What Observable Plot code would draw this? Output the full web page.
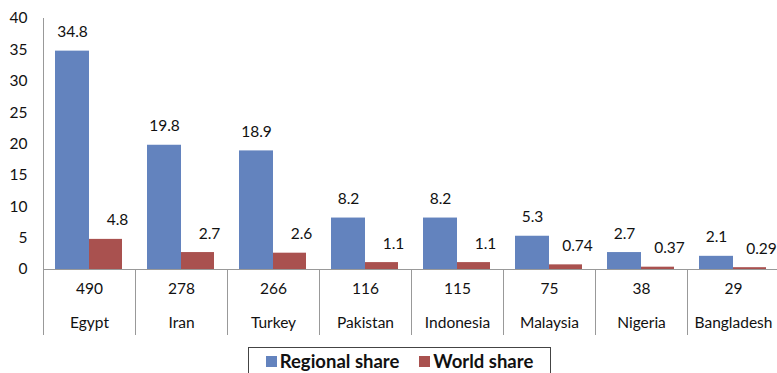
<!DOCTYPE html>
<html>
<head>
<meta charset="utf-8">
<script src="https://cdn.jsdelivr.net/npm/d3@7"></script>
<script src="https://cdn.jsdelivr.net/npm/@observablehq/plot@0.6"></script>
<style>
  html, body { margin: 0; padding: 0; background: #fff; }
  body { width: 777px; height: 373px; overflow: hidden; font-family: Lato, sans-serif; }
  #legend {
    position: relative; left: 248px; margin-top: 2px; width: 301px; height: 30px;
    border: 1px solid #444; box-sizing: content-box;
    display: flex; align-items: flex-start; justify-content: center; gap: 20px;
    font-weight: bold; font-size: 18.5px; color: #111; padding-top: 2px;
  }
  #legend span.item { display: flex; align-items: center; gap: 3px; }
  #legend span.sw { display: inline-block; width: 11px; height: 11px; }
</style>
</head>
<body>
<div id="chart"></div>
<div id="legend"></div>
<script>
const countries = ["Egypt", "Iran", "Turkey", "Pakistan", "Indonesia", "Malaysia", "Nigeria", "Bangladesh"];
const totals = [490, 278, 266, 116, 115, 75, 38, 29];
const regionalShare = [34.8, 19.8, 18.9, 8.2, 8.2, 5.3, 2.7, 2.1];
const worldShare = [4.8, 2.7, 2.6, 1.1, 1.1, 0.74, 0.37, 0.29];
const seriesNames = ["Regional share", "World share"];
const seriesColors = ["#6383be", "#a9514f"];
const yTicks = [0, 5, 10, 15, 20, 25, 30, 35, 40];

const rows = countries.map((c, i) => ({country: c, total: totals[i], regional: regionalShare[i], world: worldShare[i]}));

const font = "Lato, sans-serif";
const chart = Plot.plot({
  width: 777,
  height: 345,
  marginTop: 18,
  marginBottom: 76,
  marginLeft: 43,
  marginRight: 0,
  style: {fontFamily: font, fontSize: "15.5px", color: "#111", background: "#fff"},
  x: {type: "band", domain: countries, range: [43, 779], padding: 0},
  y: {domain: [0, 40], ticks: yTicks},
  marks: [
    Plot.barY(rows, {x: "country", y: "regional", fill: seriesColors[0], insetLeft: 12, insetRight: 46}),
    Plot.barY(rows, {x: "country", y: "world", fill: seriesColors[1], insetLeft: 46, insetRight: 13}),
    Plot.text(rows, {x: "country", y: "regional", text: d => String(d.regional), dx: -17, dy: -19, fill: "#111", fontSize: 15.5}),
    Plot.text(rows, {x: "country", y: "world", text: d => String(d.world), dx: 28, dy: -19, fill: "#111", fontSize: 15.5}),
    Plot.frame({anchor: "left", stroke: "#999"}),
    Plot.ruleY([0], {stroke: "#999"}),
    Plot.axisY({ticks: yTicks, tickSize: 0, tickPadding: 16, label: null, fontSize: 15.5}),
    Plot.axisX({tickSize: 66, tickFormat: () => "", dx: -46, stroke: "#999", label: null}),
    Plot.axisX({tickSize: 0, tickPadding: 13, tickFormat: d => String(totals[countries.indexOf(d)]), label: null, fontSize: 15.5}),
    Plot.axisX({tickSize: 0, tickPadding: 47, tickFormat: d => d, label: null, fontSize: 15.5})
  ]
});
document.getElementById("chart").appendChild(chart);

const legend = document.getElementById("legend");
seriesNames.forEach((name, i) => {
  const item = document.createElement("span");
  item.className = "item";
  const sw = document.createElement("span");
  sw.className = "sw";
  sw.style.background = seriesColors[i];
  item.appendChild(sw);
  item.appendChild(document.createTextNode(name));
  legend.appendChild(item);
});
</script>
</body>
</html>
